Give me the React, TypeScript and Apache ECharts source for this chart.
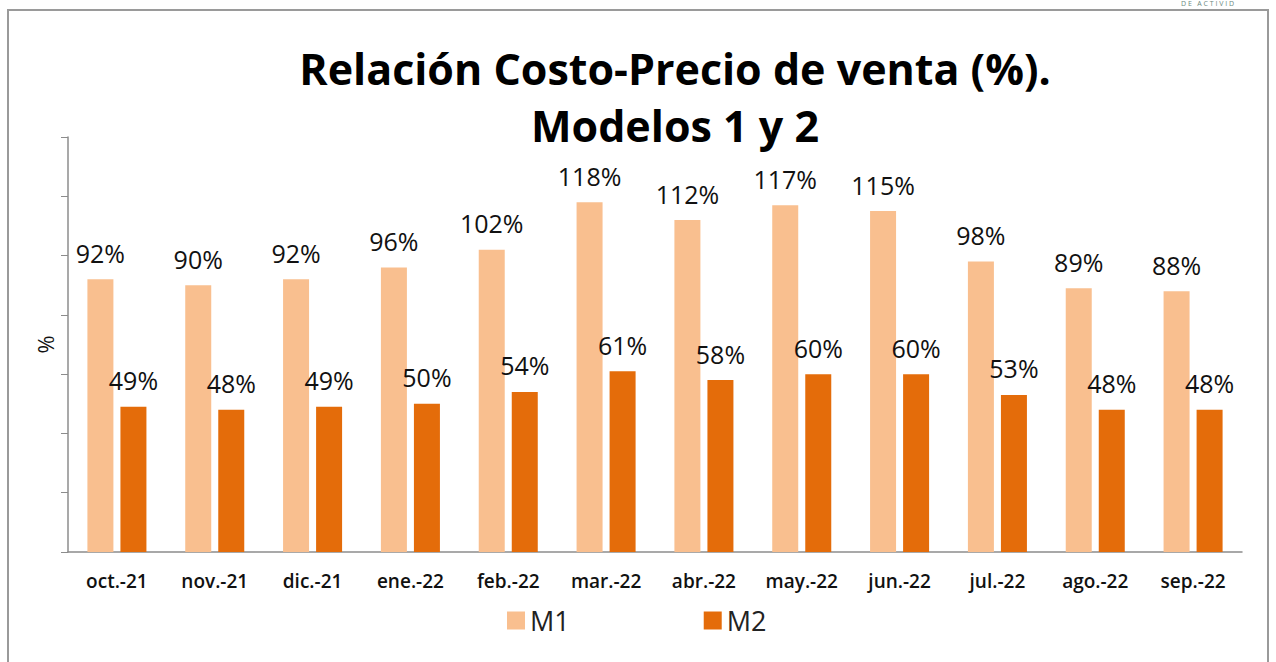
import React, { useEffect, useRef } from "react";
import * as echarts from "echarts";

const categories = ["oct.-21", "nov.-21", "dic.-21", "ene.-22", "feb.-22", "mar.-22", "abr.-22", "may.-22", "jun.-22", "jul.-22", "ago.-22", "sep.-22"];
const m1Values = [92, 90, 92, 96, 102, 118, 112, 117, 115, 98, 89, 88];
const m2Values = [49, 48, 49, 50, 54, 61, 58, 60, 60, 53, 48, 48];
const seriesNames = ["M1", "M2"];
const titleText = "Relación Costo-Precio de venta (%).\nModelos 1 y 2";

const FONT = "'Open Sans', Lato, sans-serif";

export default function App() {
  const ref = useRef<HTMLDivElement>(null);
  useEffect(() => {
    if (!ref.current) return;
    const chart = echarts.init(ref.current, null, { renderer: "svg" });
    const labelStyle = {
      show: true,
      position: "top" as const,
      distance: 14,
      formatter: "{c}%",
      fontSize: 25,
      fontFamily: FONT,
      color: "#111",
    };
    chart.setOption({
      animation: false,
      backgroundColor: "#fff",
      textStyle: { fontFamily: FONT },
      title: {
        text: titleText,
        left: 670,
        top: 35,
        textAlign: "center",
        textStyle: {
          fontFamily: FONT,
          fontSize: 43,
          fontWeight: "bold",
          color: "#000",
          lineHeight: 57,
        },
      },
      graphic: [
        {
          type: "rect",
          shape: { x: 8, y: 10, width: 1260, height: 660 },
          style: { fill: "none", stroke: "#9a9a9a", lineWidth: 2 },
          silent: true,
        },
        {
          type: "text",
          x: 1181,
          y: 0,
          style: {
            text: "D E   A C T I V I D",
            fontSize: 7,
            fill: "#6d8a80",
            fontFamily: FONT,
          },
          silent: true,
        },
      ],
      legend: {
        left: 502,
        top: 602,
        itemWidth: 18,
        itemHeight: 18,
        itemGap: 134,
        icon: "rect",
        textStyle: { fontSize: 27, color: "#222", fontFamily: FONT },
        data: seriesNames,
      },
      grid: { left: 68, right: 34, top: 137, bottom: 110, containLabel: false },
      xAxis: {
        type: "category",
        data: categories,
        axisLine: { show: true, lineStyle: { color: "#8c8c8c", width: 1.5 } },
        axisTick: { show: false },
        axisLabel: {
          margin: 19,
          fontSize: 19,
          fontWeight: 600,
          color: "#111",
          fontFamily: FONT,
        },
      },
      yAxis: {
        type: "value",
        min: 0,
        max: 140,
        interval: 20,
        name: "%",
        nameLocation: "middle",
        nameGap: 12,
        nameRotate: 90,
        nameTextStyle: { fontSize: 22, color: "#111", fontFamily: FONT },
        axisLine: { show: true, lineStyle: { color: "#8c8c8c", width: 1.5 } },
        axisTick: { show: true, length: 7, lineStyle: { color: "#8c8c8c" } },
        axisLabel: { show: false },
        splitLine: { show: false },
      },
      series: [
        {
          name: seriesNames[0],
          type: "bar",
          data: m1Values,
          barWidth: 26,
          barGap: "27%",
          itemStyle: { color: "#F9BF8F" },
          label: labelStyle,
        },
        {
          name: seriesNames[1],
          type: "bar",
          data: m2Values,
          barWidth: 26,
          itemStyle: { color: "#E46C0A" },
          label: labelStyle,
        },
      ],
    });
    return () => chart.dispose();
  }, []);
  return (
    <div
      ref={ref}
      style={{ position: "absolute", left: 0, top: 0, width: 1276, height: 662 }}
    />
  );
}
